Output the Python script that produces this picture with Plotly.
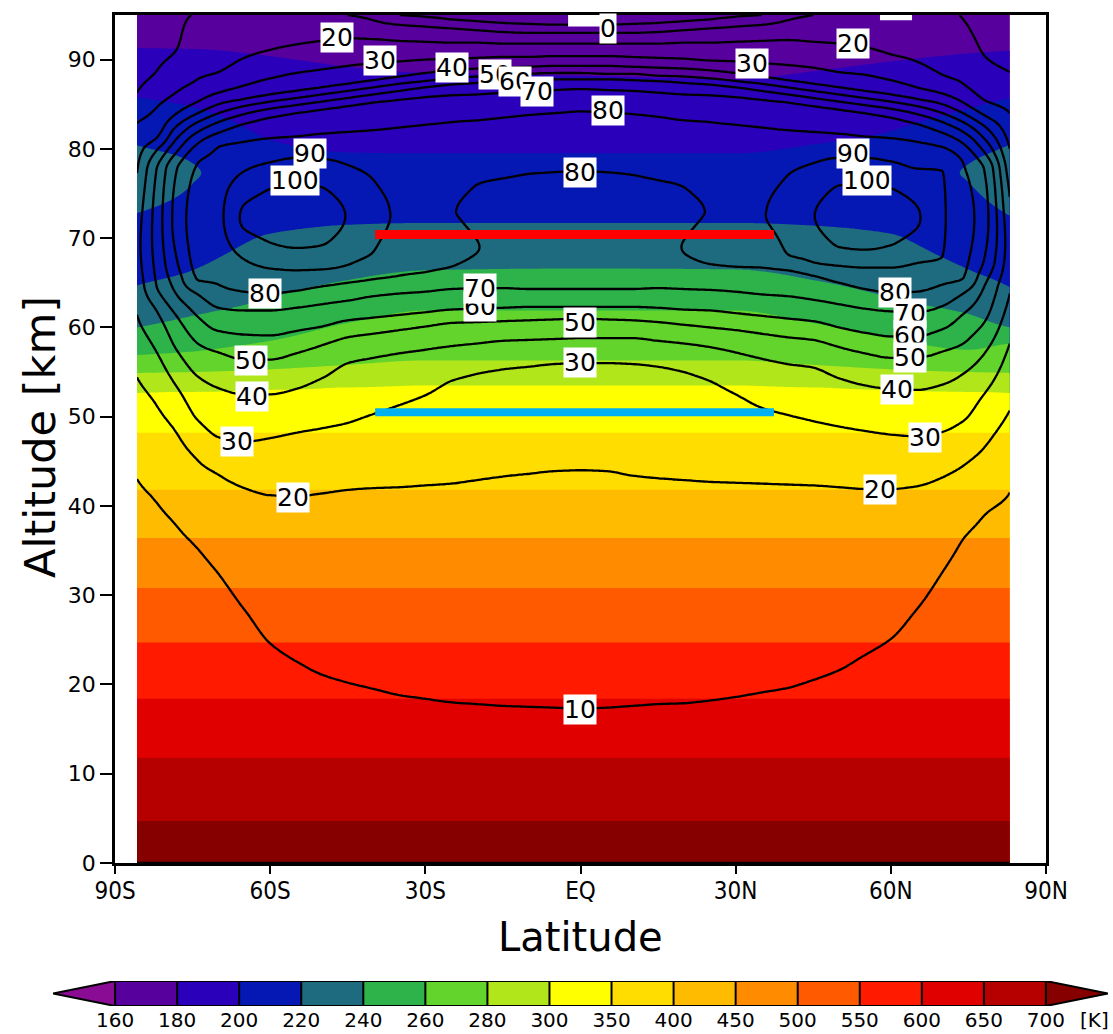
import numpy as np
import plotly.graph_objects as go

# ---------------- data ----------------
T_LEVELS = [160, 180, 200, 220, 240, 260, 280, 300, 350, 400, 450, 500, 550, 600, 650, 700]
T_COLORS = ["#8a0c94", "#58009e", "#2a00bb", "#0618b4", "#1e6a7f", "#2db34a",
            "#63d42b", "#b1e61b", "#ffff00", "#ffdd00", "#ffbb00", "#ff8c00",
            "#ff5a00", "#ff1a00", "#e00000", "#b60000", "#870000"]

# temperature profiles (altitude km, temperature K) per latitude column
T_LATS = [-85.75, -75, -60, -45, -30, 0, 30, 45, 60, 75, 83]
T_LOW = [[0, 733], [4.7, 700], [11.8, 650], [18.4, 600], [24.7, 550], [30.8, 500],
         [36.4, 450], [41.8, 400], [48.2, 350]]
T_UPPER = [
    [[52.7, 300], [54.9, 280], [56.9, 260], [60.0, 240], [64.7, 220], [68.5, 212], [72.8, 220], [76.5, 229], [80.4, 220], [85.8, 200], [91.3, 180], [95, 172]],
    [[52.8, 300], [55.0, 280], [57.3, 260], [61.3, 240], [66.4, 220], [70, 214], [76.1, 220], [77.3, 221.5], [78.4, 220], [84.7, 200], [91.2, 180], [95, 172]],
    [[53.0, 300], [55.3, 280], [58.5, 260], [63.3, 240], [70.5, 220], [81.0, 200], [90.4, 180], [95, 172]],
    [[53.3, 300], [55.8, 280], [60.5, 260], [65.3, 240], [71.5, 220], [79.6, 200], [89.2, 180], [95, 172]],
    [[53.5, 300], [56.3, 280], [61.9, 260], [66.4, 240], [71.7, 220], [79.5, 200], [88.5, 180], [95, 171]],
    [[53.5, 300], [56.3, 280], [61.9, 260], [66.6, 240], [71.7, 220], [79.5, 200], [88.2, 180], [95, 170]],
    [[53.5, 300], [56.3, 280], [61.9, 260], [66.5, 240], [71.7, 220], [79.5, 200], [87.8, 180], [95, 171]],
    [[53.3, 300], [55.8, 280], [60.5, 260], [65.3, 240], [71.4, 220], [80.5, 200], [88.7, 180], [95, 172]],
    [[53.0, 300], [55.3, 280], [58.8, 260], [63.3, 240], [70.5, 220], [82.0, 200], [89.8, 180], [95, 172]],
    [[52.8, 300], [55.0, 280], [57.5, 260], [61.5, 240], [66.5, 220], [70, 214], [76.3, 220], [77.3, 221.5], [78.3, 220], [84.5, 200], [90.7, 180], [95, 172]],
    [[52.7, 300], [54.9, 280], [58.2, 260], [60.0, 240], [64.5, 220], [68.5, 213], [72.5, 220], [76.5, 228], [80.5, 220], [85.7, 200], [91.0, 180], [95, 172]],
]

# zonal wind profiles (altitude km, wind m/s) per latitude column
U_LATS = [-85.75, -82, -78, -74, -70, -65, -60, -55, -50, -45, -40, -35, -30, -25, -20, -15,
          -10, -5, 0, 5, 10, 15, 20, 25, 30, 35, 40, 45, 50, 55, 60, 65, 70, 74, 78, 83]
U_PROFILES = [
    [[0, 0], [43, 10], [54.4, 20], [61.4, 30], [69, 37], [77.3, 30], [82.9, 20], [86.3, 10], [95, 3]],
    [[0, 0], [40.4, 10], [51.3, 20], [57.3, 30], [61.9, 40], [64.7, 50], [71, 54], [77.6, 50], [79.8, 40], [81.2, 30], [84.6, 20], [88.7, 10], [95, 6]],
    [[0, 0], [37.7, 10], [48.1, 20], [53.3, 30], [57.4, 40], [61.2, 50], [63.6, 60], [67.5, 70], [72, 74], [77.8, 70], [79.7, 60], [81.2, 50], [82.6, 40], [84.0, 30], [86.4, 20], [91.2, 10], [95, 8.5]],
    [[0, 0], [35.2, 10], [45.1, 20], [49.6, 30], [54.5, 40], [58.2, 50], [61.2, 60], [63.7, 70], [65.3, 80], [72, 85], [78.4, 80], [80.6, 70], [81.9, 60], [83.0, 50], [84.0, 40], [85.3, 30], [87.8, 20], [95, 10.5]],
    [[0, 0], [32.4, 10], [43.5, 20], [47.7, 30], [53.2, 40], [57.2, 50], [59.6, 60], [62.2, 70], [64.8, 80], [72.5, 88], [80.2, 80], [81.8, 70], [83.0, 60], [84.0, 50], [85.0, 40], [86.3, 30], [88.6, 20], [95, 11.5]],
    [[0, 0], [28.4, 10], [42.0, 20], [47.2, 30], [52.5, 40], [56.4, 50], [59.2, 60], [61.9, 70], [64.0, 80], [67.6, 90], [72.3, 101.5], [77.5, 90], [80.8, 80], [82.8, 70], [83.9, 60], [84.8, 50], [85.6, 40], [87.1, 30], [90.2, 20], [95, 13]],
    [[0, 0], [24.6, 10], [41.2, 20], [47.6, 30], [52.5, 40], [56.4, 50], [59.1, 60], [61.9, 70], [63.8, 80], [66.6, 90], [69.5, 100], [72.5, 104], [75.5, 100], [78.5, 90], [81.2, 80], [83.5, 70], [84.5, 60], [85.3, 50], [86.1, 40], [87.9, 30], [91.1, 20], [95, 13.5]],
    [[0, 0], [22.6, 10], [41.1, 20], [48.2, 30], [53.1, 40], [57.1, 50], [59.6, 60], [62.2, 70], [64.1, 80], [66.4, 90], [68.9, 100], [72.5, 106], [76.1, 100], [79, 90], [81.4, 80], [84.0, 70], [84.9, 60], [85.7, 50], [86.5, 40], [88.5, 30], [91.7, 20], [95, 13.5]],
    [[0, 0], [21.1, 10], [41.4, 20], [48.7, 30], [54.3, 40], [58.0, 50], [60.1, 60], [62.6, 70], [64.6, 80], [66.5, 90], [69.2, 100], [72.5, 104], [75.7, 100], [78.9, 90], [81.7, 80], [84.4, 70], [85.3, 60], [86.1, 50], [86.9, 40], [88.9, 30], [92.1, 20], [95, 12]],
    [[0, 0], [20.2, 10], [41.8, 20], [49.3, 30], [56, 40], [58.9, 50], [60.8, 60], [63, 70], [65, 80], [67, 90], [72.5, 99.5], [78.2, 90], [81.9, 80], [84.8, 70], [85.7, 60], [86.5, 50], [87.3, 40], [89.3, 30], [92.4, 20], [95, 10]],
    [[0, 0], [19.5, 10], [42.0, 20], [50.3, 30], [56.6, 40], [59.3, 50], [61.1, 60], [63.5, 70], [65.4, 80], [68.5, 90], [72.5, 92.5], [76.5, 90], [82.1, 80], [85.2, 70], [86.1, 60], [86.9, 50], [87.7, 40], [89.6, 30], [92.3, 20], [94.4, 10], [95, 8]],
    [[0, 0], [18.8, 10], [42.1, 20], [51.3, 30], [57.1, 40], [59.7, 50], [61.4, 60], [63.8, 70], [65.8, 80], [72.5, 89], [82.4, 80], [85.5, 70], [86.5, 60], [87.3, 50], [88.1, 40], [89.8, 30], [92.1, 20], [93.9, 10], [95, 0]],
    [[0, 0], [18.4, 10], [42.3, 20], [52.4, 30], [57.5, 40], [60.1, 50], [61.7, 60], [64.0, 70], [66.2, 80], [72, 87], [82.7, 80], [85.8, 70], [86.9, 60], [87.6, 50], [88.5, 40], [90.0, 30], [92.0, 20], [93.7, 10], [94.8, 0], [95, -1]],
    [[0, 0], [18.0, 10], [42.5, 20], [54.0, 30], [57.9, 40], [60.5, 50], [62.0, 60], [64.3, 70], [66.8, 80], [70, 84], [73, 80.5], [78, 83], [83.0, 80], [86.0, 70], [87.2, 60], [87.9, 50], [88.8, 40], [90.1, 30], [91.9, 20], [93.5, 10], [94.5, 0], [95, -2]],
    [[0, 0], [17.8, 10], [42.9, 20], [54.8, 30], [58.2, 40], [60.6, 50], [62.1, 60], [64.4, 70], [69, 80.3], [72, 78.5], [76, 80], [80, 83], [83.2, 80], [86.1, 70], [87.4, 60], [88.1, 50], [89.0, 40], [90.2, 30], [91.9, 20], [93.3, 10], [94.3, 0], [95, -3]],
    [[0, 0], [17.6, 10], [43.3, 20], [55.3, 30], [58.5, 40], [60.7, 50], [62.2, 60], [64.4, 70], [69, 77.5], [73, 78], [76.7, 80], [80.3, 83.5], [83.5, 80], [86.3, 70], [87.6, 60], [88.2, 50], [89.1, 40], [90.3, 30], [91.8, 20], [93.1, 10], [94.1, 0], [95, -3.5]],
    [[0, 0], [17.5, 10], [43.6, 20], [55.6, 30], [58.6, 40], [60.8, 50], [62.3, 60], [64.3, 70], [69, 77], [73, 78.2], [77.2, 80], [80.5, 83.5], [83.8, 80], [86.5, 70], [87.7, 60], [88.4, 50], [89.2, 40], [90.3, 30], [91.8, 20], [93.0, 10], [94.0, 0], [95, -4]],
    [[0, 0], [17.4, 10], [43.9, 20], [55.9, 30], [58.7, 40], [60.9, 50], [62.3, 60], [64.3, 70], [69, 77], [73, 78.3], [77.4, 80], [80.6, 83.5], [84.0, 80], [86.6, 70], [87.8, 60], [88.5, 50], [89.3, 40], [90.4, 30], [91.8, 20], [93.0, 10], [93.9, 0], [95, -4]],
    [[0, 0], [17.3, 10], [44.0, 20], [56.0, 30], [58.8, 40], [61.0, 50], [62.3, 60], [64.3, 70], [69, 77], [73, 78.3], [77.5, 80], [80.7, 83.5], [84.2, 80], [86.7, 70], [87.8, 60], [88.5, 50], [89.3, 40], [90.4, 30], [91.8, 20], [93.0, 10], [93.9, 0], [95, -4]],
    [[0, 0], [17.4, 10], [43.9, 20], [56.0, 30], [58.8, 40], [60.9, 50], [62.3, 60], [64.3, 70], [69, 77], [73, 78.3], [77.4, 80], [80.6, 83.5], [84.1, 80], [86.6, 70], [87.8, 60], [88.4, 50], [89.3, 40], [90.4, 30], [91.8, 20], [93.0, 10], [93.9, 0], [95, -4]],
    [[0, 0], [17.6, 10], [43.4, 20], [55.9, 30], [58.8, 40], [60.8, 50], [62.3, 60], [64.3, 70], [69, 77], [73, 78.2], [77.1, 80], [80.5, 83.5], [83.9, 80], [86.5, 70], [87.7, 60], [88.4, 50], [89.2, 40], [90.3, 30], [91.8, 20], [93.0, 10], [94.0, 0], [95, -4]],
    [[0, 0], [17.8, 10], [43.1, 20], [55.6, 30], [58.5, 40], [60.6, 50], [62.2, 60], [64.4, 70], [69, 77.5], [73, 78], [76.5, 80], [80.3, 83.5], [83.6, 80], [86.3, 70], [87.6, 60], [88.2, 50], [89.1, 40], [90.2, 30], [91.8, 20], [93.1, 10], [94.1, 0], [95, -3.5]],
    [[0, 0], [17.9, 10], [42.9, 20], [55.0, 30], [58.2, 40], [60.3, 50], [62.0, 60], [64.3, 70], [69, 80.3], [72, 78.5], [75.7, 80], [80, 83], [83.2, 80], [86.1, 70], [87.4, 60], [88.1, 50], [89.0, 40], [90.1, 30], [91.9, 20], [93.3, 10], [94.3, 0], [95, -3]],
    [[0, 0], [18.2, 10], [42.7, 20], [54.0, 30], [57.8, 40], [60.0, 50], [61.9, 60], [64.2, 70], [67.1, 80], [70, 84], [73, 80.5], [78, 83], [83.0, 80], [86.0, 70], [87.2, 60], [87.9, 50], [88.8, 40], [89.9, 30], [91.9, 20], [93.5, 10], [94.5, 0], [95, -2]],
    [[0, 0], [18.6, 10], [42.6, 20], [52.5, 30], [57.2, 40], [59.7, 50], [61.6, 60], [64.0, 70], [66.8, 80], [72, 87], [82.7, 80], [85.8, 70], [86.9, 60], [87.6, 50], [88.5, 40], [89.8, 30], [92.0, 20], [93.7, 10], [94.8, 0], [95, -1]],
    [[0, 0], [19.1, 10], [42.5, 20], [51.0, 30], [56.5, 40], [59.3, 50], [61.3, 60], [63.7, 70], [66.7, 80], [72.5, 89.5], [82.4, 80], [85.5, 70], [86.5, 60], [87.3, 50], [88.1, 40], [89.6, 30], [92.1, 20], [93.9, 10], [95, 0]],
    [[0, 0], [19.6, 10], [42.4, 20], [50.2, 30], [55.9, 40], [58.9, 50], [61.0, 60], [63.5, 70], [66.4, 80], [68.2, 90], [72.5, 93], [77, 90], [82.1, 80], [85.2, 70], [86.1, 60], [86.9, 50], [87.7, 40], [89.4, 30], [92.2, 20], [94.4, 10], [95, 8]],
    [[0, 0], [20.5, 10], [42.3, 20], [49.5, 30], [55.5, 40], [58.6, 50], [60.7, 60], [63.1, 70], [65.8, 80], [67.3, 90], [72.5, 99.7], [78.4, 90], [81.9, 80], [84.8, 70], [85.7, 60], [86.5, 50], [87.3, 40], [89.1, 30], [92.0, 20], [95, 10]],
    [[0, 0], [21.6, 10], [42.1, 20], [48.9, 30], [54.3, 40], [57.8, 50], [60.0, 60], [62.6, 70], [65.0, 80], [66.9, 90], [69.0, 100], [72.5, 104], [75.9, 100], [79.0, 90], [81.7, 80], [84.4, 70], [85.3, 60], [86.1, 50], [86.9, 40], [88.6, 30], [91.8, 20], [95, 12]],
    [[0, 0], [23.3, 10], [41.9, 20], [48.4, 30], [53.5, 40], [57.1, 50], [59.4, 60], [62.1, 70], [64.3, 80], [66.7, 90], [68.7, 100], [72.5, 106], [76.1, 100], [79, 90], [81.4, 80], [84.0, 70], [84.9, 60], [85.7, 50], [86.5, 40], [88.3, 30], [91.4, 20], [95, 13.5]],
    [[0, 0], [25.1, 10], [41.9, 20], [48.0, 30], [53.1, 40], [56.6, 50], [59.0, 60], [61.8, 70], [63.9, 80], [66.7, 90], [69.2, 100], [72.5, 104.5], [75.6, 100], [78.6, 90], [81.2, 80], [83.5, 70], [84.5, 60], [85.3, 50], [86.1, 40], [87.7, 30], [90.6, 20], [95, 13.5]],
    [[0, 0], [28.4, 10], [42.2, 20], [47.8, 30], [53.0, 40], [56.6, 50], [59.0, 60], [61.7, 70], [64.0, 80], [67.2, 90], [72.3, 101], [77.8, 90], [80.8, 80], [82.8, 70], [83.9, 60], [84.8, 50], [85.6, 40], [86.9, 30], [89.8, 20], [95, 13]],
    [[0, 0], [32.6, 10], [43.2, 20], [48.3, 30], [53.6, 40], [57.3, 50], [59.8, 60], [62.4, 70], [64.8, 80], [68, 90], [72.5, 91], [77.5, 90], [80.2, 80], [81.8, 70], [83.0, 60], [84.0, 50], [85.0, 40], [86.2, 30], [88.3, 20], [95, 11]],
    [[0, 0], [36.3, 10], [44.5, 20], [49.5, 30], [54.8, 40], [58.2, 50], [61.5, 60], [63.8, 70], [65.5, 80], [72, 85], [78.4, 80], [80.6, 70], [81.9, 60], [83.0, 50], [84.0, 40], [85.2, 30], [87.3, 20], [94.5, 10], [95, 9.7]],
    [[0, 0], [38.9, 10], [46.5, 20], [52.5, 30], [57, 40], [60.5, 50], [64.5, 60], [67.5, 70], [72, 74], [77.8, 70], [79.7, 60], [81.2, 50], [82.6, 40], [83.8, 30], [85.5, 20], [90.5, 10], [95, 7]],
    [[0, 0], [41.5, 10], [50.7, 20], [58.2, 30], [63.8, 40], [69, 45], [74.6, 40], [80.0, 30], [84, 20], [88.6, 10], [95, 3]],
]

# contour labels (text, latitude, altitude)
LABELS = [("20", -47.1, 92.45), ("30", -38.8, 89.9), ("40", -24.8, 89.1), ("50", -16.5, 88.3),
          ("60", -12.7, 87.6), ("70", -8.4, 86.4), ("0", 5.3, 93.5), ("80", 5.3, 84.3),
          ("30", 33.2, 89.6), ("20", 52.7, 91.85), ("90", -52.3, 79.5), ("100", -55.2, 76.5),
          ("80", -0.1, 77.4), ("90", 52.7, 79.5), ("100", 55.4, 76.5), ("80", -61.0, 63.85),
          ("60", -19.4, 62.3), ("70", -19.4, 64.4), ("50", -0.1, 60.6), ("30", -0.1, 56.1),
          ("50", -63.7, 56.35), ("40", -63.5, 52.3), ("30", -66.4, 47.2), ("20", -55.6, 40.9),
          ("10", -0.1, 17.15), ("80", 60.8, 63.95), ("70", 63.7, 61.6), ("60", 63.7, 59.15),
          ("50", 63.7, 56.6), ("40", 61.2, 53.0), ("30", 66.6, 47.7), ("20", 57.9, 41.8)]

# highlighted layers
RED_LAT = [-39.7, 37.4]
RED_ALT = [70.4, 70.4]
BLUE_LAT = [-39.7, 37.4]
BLUE_ALT = [50.5, 50.5]

X_TICKS = [-90, -60, -30, 0, 30, 60, 90]
X_TICKTEXT = ["90S", "60S", "30S", "EQ", "30N", "60N", "90N"]
Y_TICKS = [0, 10, 20, 30, 40, 50, 60, 70, 80, 90]

# ---------------- build grids ----------------
ALT = np.arange(0, 95.001, 0.25)
LAT = np.linspace(-85.75, 83.0, 339)


def pchip(x, y, xn):
    """monotone cubic (PCHIP) resampling along the last axis"""
    x = np.asarray(x, dtype=float)
    y = np.asarray(y, dtype=float)
    h = np.diff(x)
    d = np.diff(y, axis=-1) / h
    m = np.zeros_like(y)
    if len(x) > 2:
        w1 = 2 * h[1:] + h[:-1]
        w2 = h[1:] + 2 * h[:-1]
        a = d[..., :-1]
        b = d[..., 1:]
        ok = a * b > 0
        sa = np.where(ok, a, 1.0)
        sb = np.where(ok, b, 1.0)
        m[..., 1:-1] = np.where(ok, (w1 + w2) / (w1 / sa + w2 / sb), 0.0)
    m[..., 0] = d[..., 0]
    m[..., -1] = d[..., -1]
    i = np.clip(np.searchsorted(x, xn, side="right") - 1, 0, len(x) - 2)
    hh = h[i]
    t = (xn - x[i]) / hh
    h00 = 2 * t**3 - 3 * t**2 + 1
    h10 = t**3 - 2 * t**2 + t
    h01 = -2 * t**3 + 3 * t**2
    h11 = t**3 - t**2
    return y[..., i] * h00 + hh * m[..., i] * h10 + y[..., i + 1] * h01 + hh * m[..., i + 1] * h11


def column(knots):
    k = np.array(knots, dtype=float)
    return pchip(k[:, 0], k[:, 1], ALT)


T_cols = np.column_stack([column(T_LOW + up) for up in T_UPPER])
T = pchip(T_LATS, T_cols, LAT)
ext_levels = [140] + T_LEVELS + [760]
T_idx = np.round(np.interp(T, ext_levels, np.arange(-1, 17)), 3)

U_cols = np.column_stack([column(p) for p in U_PROFILES])
U = np.round(pchip(U_LATS, U_cols, LAT), 2)

fill_scale = [[i / 16, c] for i, c in enumerate(T_COLORS)]

fig = go.Figure()
fig.add_trace(go.Contour(
    x=LAT, y=ALT, z=T_idx, autocontour=False,
    contours=dict(start=0, end=15, size=1, coloring="fill", showlines=False),
    colorscale=fill_scale, showscale=False, line=dict(width=0),
    hoverinfo="skip"))

fig.add_trace(go.Contour(
    x=LAT, y=ALT, z=U, autocontour=False,
    contours=dict(start=0, end=100, size=10, coloring="none", showlabels=False),
    line=dict(color="black", width=2.3, smoothing=1.0),
    showscale=False, hoverinfo="skip"))

fig.add_trace(go.Scatter(x=RED_LAT, y=RED_ALT, mode="lines",
                         line=dict(color="#ff0000", width=9), hoverinfo="skip"))
fig.add_trace(go.Scatter(x=BLUE_LAT, y=BLUE_ALT, mode="lines",
                         line=dict(color="#00b0f0", width=8), hoverinfo="skip"))

# colour bar as its own small axis
band_scale = []
for i, c in enumerate(T_COLORS[1:16]):
    band_scale += [[i / 15, c], [(i + 1) / 15, c]]
fig.add_trace(go.Heatmap(x=list(range(16)), y=[0, 1], z=[list(range(15))],
                         zmin=-0.5, zmax=14.5, colorscale=band_scale, showscale=False,
                         xaxis="x2", yaxis="y2", hoverinfo="skip"))

shapes = []
for i in range(1, 15):
    shapes.append(dict(type="line", xref="x2", yref="y2", x0=i, x1=i, y0=0, y1=1,
                       line=dict(color="black", width=2)))
shapes.append(dict(type="rect", xref="x2", yref="y2", x0=0, x1=15, y0=0, y1=1,
                   line=dict(color="black", width=2)))
shapes.append(dict(type="path", xref="x2", yref="y2", path="M 0 0 L -1 0.5 L 0 1 Z",
                   fillcolor=T_COLORS[0], line=dict(color="black", width=2)))
shapes.append(dict(type="path", xref="x2", yref="y2", path="M 15 0 L 16 0.5 L 15 1 Z",
                   fillcolor=T_COLORS[16], line=dict(color="black", width=2)))
# label-box remnants at the top edge
shapes.append(dict(type="rect", xref="x", yref="y", x0=-2.4, x1=3.8, y0=93.7, y1=95,
                   fillcolor="white", line=dict(width=0)))
shapes.append(dict(type="rect", xref="x", yref="y", x0=57.9, x1=64.1, y0=94.4, y1=95,
                   fillcolor="white", line=dict(width=0)))

annotations = []
for txt, la, al in LABELS:
    annotations.append(dict(x=la, y=al, xref="x", yref="y", text=txt, showarrow=False,
                            bgcolor="white", borderpad=0, xanchor="center", yanchor="middle",
                            font=dict(family="DejaVu Sans", size=25, color="black")))
annotations.append(dict(x=0.4986, y=0.0771, xref="paper", yref="paper", text="Latitude",
                        xanchor="center", yanchor="middle", showarrow=False,
                        font=dict(family="DejaVu Sans", size=40, color="black")))
annotations.append(dict(x=-0.0094, y=0.5776, xref="paper", yref="paper", text="Altitude [km]",
                        textangle=-90, xanchor="center", yanchor="middle", showarrow=False,
                        font=dict(family="DejaVu Sans", size=43, color="black")))
annotations.append(dict(x=15.78, y=-0.0065, xref="x2", yref="paper", text="[K]",
                        xanchor="center", yanchor="middle", showarrow=False,
                        font=dict(family="DejaVu Sans", size=20, color="black")))

fig.update_layout(
    width=1113, height=1034, autosize=False,
    margin=dict(l=50, r=0, t=15, b=20, autoexpand=False),
    paper_bgcolor="white", plot_bgcolor="white",
    showlegend=False, hovermode=False,
    xaxis=dict(domain=[0.061148, 0.936971], range=[-90, 90], anchor="y", automargin=False,
               tickvals=X_TICKS, ticktext=X_TICKTEXT, ticks="outside", ticklen=8,
               tickwidth=2, tickcolor="black", showline=True, linewidth=2.5,
               linecolor="black", mirror=True, showgrid=False, zeroline=False,
               ticklabelstandoff=-4,
               tickfont=dict(family="Liberation Sans Narrow, DejaVu Sans Condensed, Liberation Sans",
                             size=24, color="black")),
    yaxis=dict(domain=[0.151151, 1.0], range=[0, 95], anchor="x", automargin=False,
               tickvals=Y_TICKS, ticks="outside", ticklen=12, tickwidth=2,
               tickcolor="black", showline=True, linewidth=2.5, linecolor="black",
               mirror=True, showgrid=False, zeroline=False,
               tickfont=dict(family="DejaVu Sans", size=22, color="black")),
    xaxis2=dict(domain=[0.002822, 0.995296], range=[-1, 16], anchor="y2", automargin=False,
                showgrid=False, zeroline=False, showline=False, ticks="",
                tickvals=list(range(16)),
                ticktext=[str(v) for v in T_LEVELS],
                tickfont=dict(family="DejaVu Sans", size=20, color="black")),
    yaxis2=dict(domain=[0.008008, 0.033033], range=[0, 1], anchor="x2", visible=False),
    shapes=shapes, annotations=annotations,
)

fig.write_html("out.html", config={"responsive": False})
